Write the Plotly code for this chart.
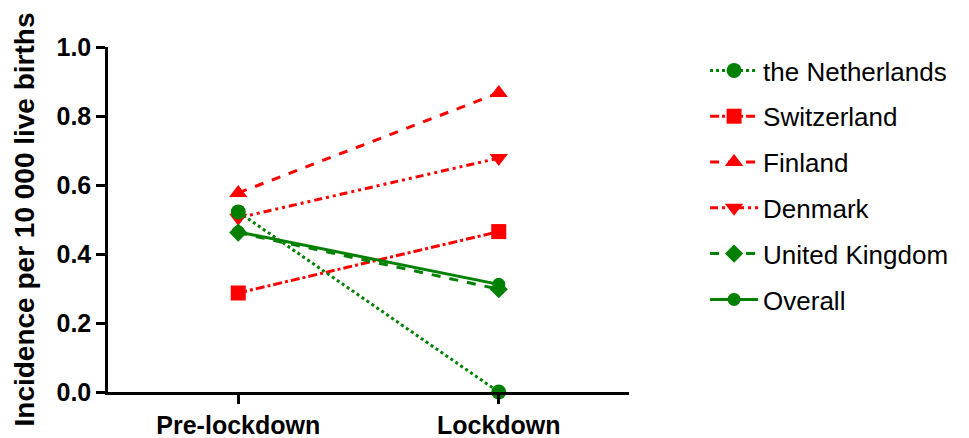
import plotly.graph_objects as go

periods = ["Pre-lockdown", "Lockdown"]
countries = ["the Netherlands", "Switzerland", "Finland", "Denmark", "United Kingdom", "Overall"]
netherlands = [0.522, 0.0]
switzerland = [0.287, 0.465]
finland = [0.577, 0.867]
denmark = [0.505, 0.678]
united_kingdom = [0.462, 0.298]
overall = [0.464, 0.312]

series = [netherlands, switzerland, finland, denmark, united_kingdom, overall]
colors = ["#008000", "#ff0000", "#ff0000", "#ff0000", "#008000", "#008000"]
dashes = ["dot", "dashdot", "dash", "8px,4px,3px,4px,3px,4px", "dash", "solid"]
symbols = ["circle", "square", "triangle-up", "triangle-down", "diamond", "circle"]
sizes = [15, 15, 16, 16, 14, 13]
draw_order = [3, 1, 2, 0, 4, 5]

fig = go.Figure()
for i in draw_order:
    c = colors[i]
    fig.add_trace(go.Scatter(
        x=[0, 1], y=series[i], name=countries[i], mode="lines+markers",
        line=dict(color=c, dash=dashes[i], width=3),
        marker=dict(color=c, symbol=symbols[i], size=sizes[i]),
        cliponaxis=False, legendgroup=countries[i], legendrank=i + 1,
    ))

font = "Arial, Liberation Sans, sans-serif"
fig.update_layout(
    width=969, height=438,
    margin=dict(l=108, r=340, t=47, b=46),
    paper_bgcolor="white", plot_bgcolor="white",
    font=dict(family=font, color="black"),
    showlegend=True,
    legend=dict(x=1.146, y=1.0, xanchor="left", yanchor="top",
                font=dict(size=26, family=font), tracegroupgap=9,
                itemwidth=48, bgcolor="rgba(0,0,0,0)"),
    xaxis=dict(range=[-0.5, 1.5], tickvals=[0, 1], ticktext=periods,
               showline=True, linecolor="black", linewidth=2.5,
               ticks="outside", ticklen=9, tickwidth=2.5, tickcolor="black",
               showgrid=False, zeroline=False, automargin=False,
               tickfont=dict(size=25, family=font, weight="bold")),
    yaxis=dict(range=[0, 1], tickvals=[0, 0.2, 0.4, 0.6, 0.8, 1.0],
               tickformat=".1f",
               showline=True, linecolor="black", linewidth=2.5,
               ticks="outside", ticklen=9, tickwidth=2.5, tickcolor="black",
               showgrid=False, zeroline=False, automargin=False,
               tickfont=dict(size=25, family=font, weight="bold"),
               title=dict(text="Incidence per 10 000 live births",
                          font=dict(size=28, family=font, weight="bold"),
                          standoff=14)),
)

fig.write_html("out.html", config={"displayModeBar": False},
               post_script="document.body.style.margin='0';")
